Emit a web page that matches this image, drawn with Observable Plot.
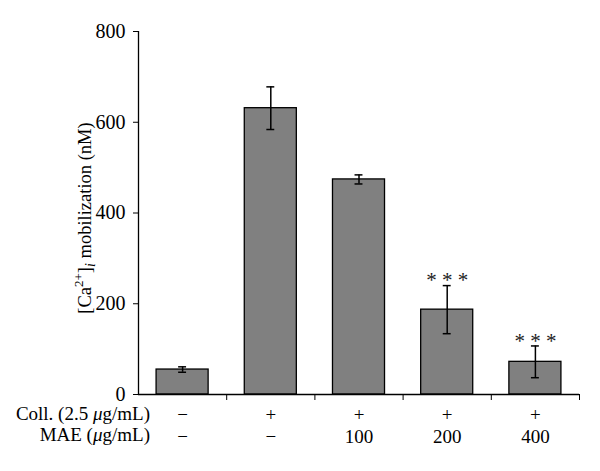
<!DOCTYPE html>
<html>
<head>
<meta charset="utf-8">
<script src="https://cdn.jsdelivr.net/npm/d3@7"></script>
<script src="https://cdn.jsdelivr.net/npm/@observablehq/plot@0.6"></script>
<style>
  html, body { margin: 0; padding: 0; background: #fff; }
  svg { display: block; }
</style>
</head>
<body>
<div id="chart"></div>
<script>
const collRow = ["−", "+", "+", "+", "+"];
const maeRow = ["−", "−", "100", "200", "400"];
const values = [55, 631, 474, 187, 72];
const errors = [6, 47, 10, 53, 35];
const sig = ["", "", "", "***", "***"];
const yTicks = [0, 200, 400, 600, 800];

const data = values.map((v, i) => ({
  x: i + 0.5, v, e: errors[i], coll: collRow[i], mae: maeRow[i], sig: sig[i]
}));

const font = "'Liberation Serif', 'Times New Roman', serif";
const half = 0.295, cap = 0.045;

const plot = Plot.plot({
  width: 600,
  height: 471,
  marginLeft: 138,
  marginRight: 21,
  marginTop: 31,
  marginBottom: 77,
  x: { domain: [0, 5], axis: null },
  y: { domain: [0, 800], axis: null },
  style: { fontFamily: font, fontSize: "19px", color: "black", background: "white" },
  marks: [
    Plot.rectY(data, { x1: d => d.x - half, x2: d => d.x + half, y1: 0, y2: "v",
      fill: "#808080", stroke: "black", strokeWidth: 1.3 }),
    Plot.ruleX(data, { x: "x", y1: d => d.v - d.e, y2: d => d.v + d.e, stroke: "black", strokeWidth: 1.5 }),
    Plot.ruleY(data, { y: d => d.v + d.e, x1: d => d.x - cap, x2: d => d.x + cap, stroke: "black", strokeWidth: 1.5 }),
    Plot.ruleY(data, { y: d => d.v - d.e, x1: d => d.x - cap, x2: d => d.x + cap, stroke: "black", strokeWidth: 1.5 }),
    Plot.ruleX([0], { stroke: "black", strokeWidth: 1.3 }),
    Plot.ruleY([0], { stroke: "black", strokeWidth: 1.3 }),
    Plot.axisY({ ticks: yTicks, tickSize: 5, tickPadding: 8, fontSize: 20, label: null }),
    Plot.axisX({ ticks: [1, 2, 3, 4, 5], tickSize: 6, tickFormat: () => "", label: null }),
    Plot.text(data, { x: "x", y: 0, text: "coll", dy: 20.5, fontSize: 19, fill: "black" }),
    Plot.text(data, { x: "x", y: 0, text: "mae", dy: 42, fontSize: 19, fill: "black" }),
    Plot.text(data.filter(d => d.sig), { x: "x", y: d => d.v + d.e,
      text: d => d.sig.split("").join(" "), dy: -5, fontSize: 21, fill: "#222" })
  ]
});

const svg = d3.select(plot);
// Y-axis title with superscript/subscript
const yl = svg.append("text")
  .attr("transform", "translate(91,218) rotate(-90)")
  .attr("text-anchor", "middle")
  .attr("font-family", font)
  .attr("font-size", 18.5)
  .attr("fill", "black");
yl.append("tspan").text("[Ca");
yl.append("tspan").attr("font-size", 13).attr("dy", -8).text("2+");
yl.append("tspan").attr("dy", 8).text("]");
yl.append("tspan").attr("font-size", 14).attr("font-style", "italic").attr("dy", 4).text("i");
yl.append("tspan").attr("dy", -4).text(" mobilization (nM)");

// Row labels on the left
const rows = [
  { y: 420, parts: [["Coll. (2.5 ", false], ["μ", true], ["g/mL)", false]] },
  { y: 441, parts: [["MAE (", false], ["μ", true], ["g/mL)", false]] }
];
rows.forEach(r => {
  const t = svg.append("text")
    .attr("x", 150).attr("y", r.y)
    .attr("text-anchor", "end")
    .attr("font-family", font)
    .attr("font-size", 19)
    .attr("fill", "black");
  r.parts.forEach(([s, it]) => {
    const ts = t.append("tspan").text(s);
    if (it) ts.attr("font-style", "italic");
  });
});

document.getElementById("chart").appendChild(plot);
</script>
</body>
</html>
